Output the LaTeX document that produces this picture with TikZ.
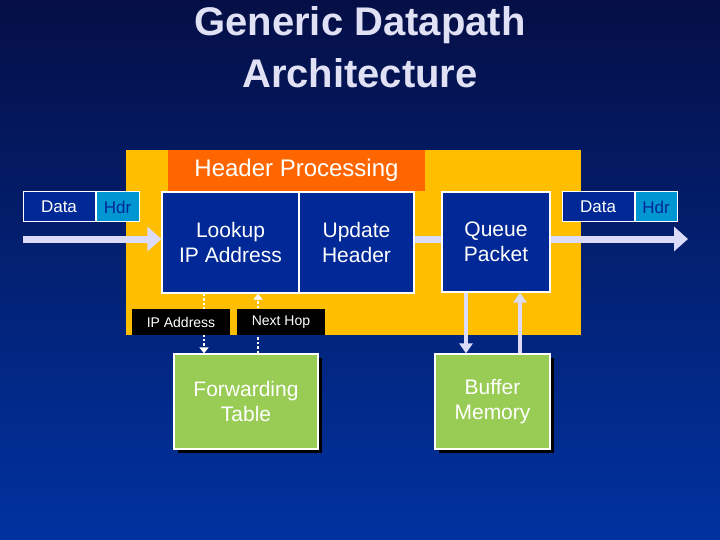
\documentclass[tikz,border=0pt]{standalone}
\usepackage{fontspec}
\setmainfont{Liberation Sans}
\usetikzlibrary{arrows.meta,shadows}
\definecolor{bgtop}{RGB}{5,15,70}
\definecolor{bgbot}{RGB}{0,50,160}
\definecolor{box}{RGB}{0,40,150}
\definecolor{yel}{RGB}{255,190,0}
\definecolor{ora}{RGB}{255,102,0}
\definecolor{grn}{RGB}{153,204,85}
\definecolor{hdr}{RGB}{0,150,210}
\definecolor{flow}{RGB}{220,220,250}
\definecolor{ttl}{RGB}{225,225,245}
\begin{document}
\begin{tikzpicture}[x=1pt,y=-1pt,
  blk/.style={draw=white,line width=1.2pt,fill=box,text=white,align=center,font=\fontsize{21}{25}\selectfont,inner sep=0},
  gbox/.style={draw=white,line width=1.2pt,fill=grn,text=white,align=center,font=\fontsize{21}{25}\selectfont,inner sep=0,drop shadow={shadow xshift=4pt,shadow yshift=-4pt,fill=black,opacity=1}},
  lbl/.style={fill=black,text=white,font=\fontsize{14}{16}\selectfont,inner sep=0},
  pk/.style={draw=white,line width=1pt,font=\fontsize{17}{20}\selectfont,inner sep=0},
  fl/.style={draw=flow,line width=7pt},
  dot/.style={draw=white,line width=2.5pt,dash pattern=on 2.5pt off 2pt,-{Triangle[length=6pt,width=9pt]}}]
\shade[top color=bgtop,bottom color=bgbot] (0,0) rectangle (720,540);
\useasboundingbox (0,0) rectangle (720,540);
% title
\node[text=ttl,font=\bfseries\fontsize{40}{52}\selectfont,align=center] (ttl) at (360,47) {Generic Datapath\\Architecture};
\fill[yel] (126,150) rectangle (581,335);
\node[fill=ora,minimum width=257pt,minimum height=41pt,inner sep=0,text=white,font=\fontsize{24}{28}\selectfont] (hp) at (296.5,170.5) {Header Processing};
% flow
\coordinate (in) at (23,239);
\coordinate (out) at (688,239);
\node[blk,minimum width=137pt,minimum height=101pt] (lk) at (230.5,242.5) {Lookup\\IP Address};
\node[blk,minimum width=108pt,minimum height=100pt] (qp) at (496,242) {Queue\\Packet};
\draw[fl,-{Triangle[length=14pt,width=24pt]}] (in) -- (lk.west |- in);
\draw[fl] (414,239) -- (qp.west |- in);
\draw[fl,-{Triangle[length=14pt,width=24pt]}] (qp.east |- in) -- (out);
\node[blk,minimum width=115pt,minimum height=101pt] (up) at (356.5,242.5) {Update\\Header};
% packets
\node[pk,fill=box,text=white,minimum width=72pt,minimum height=30pt] (d1) at (59,207) {Data};
\node[pk,fill=hdr,text=box,minimum width=43pt,minimum height=30pt,anchor=west] (h1) at (d1.east) {Hdr};
\node[pk,fill=box,text=white,minimum width=72pt,minimum height=30pt] (d2) at (598,207) {Data};
\node[pk,fill=hdr,text=box,minimum width=42pt,minimum height=30pt,anchor=west] (h2) at (d2.east) {Hdr};
% green
\node[gbox,minimum width=144pt,minimum height=95pt] (ft) at (246,401.5) {Forwarding\\Table};
\node[gbox,minimum width=115pt,minimum height=95pt] (bm) at (492.5,401.5) {Buffer\\Memory};
\draw[dot] (lk.south -| 204,0) -- (ft.north -| 204,0);
\draw[dot] (ft.north -| 258,0) -- (lk.south -| 258,0);
\node[lbl,minimum width=98pt,minimum height=26pt] (ipa) at (181,322) {IP Address};
\node[lbl,minimum width=88pt,minimum height=26pt] (nh) at (281,322) {Next Hop};
\draw[draw=flow,line width=4pt,-{Triangle[length=10pt,width=13pt]}] (qp.south -| 466,0) -- (bm.north -| 466,0);
\draw[draw=flow,line width=4pt,-{Triangle[length=10pt,width=13pt]}] (bm.north -| 520,0) -- (qp.south -| 520,0);
\end{tikzpicture}
\end{document}
